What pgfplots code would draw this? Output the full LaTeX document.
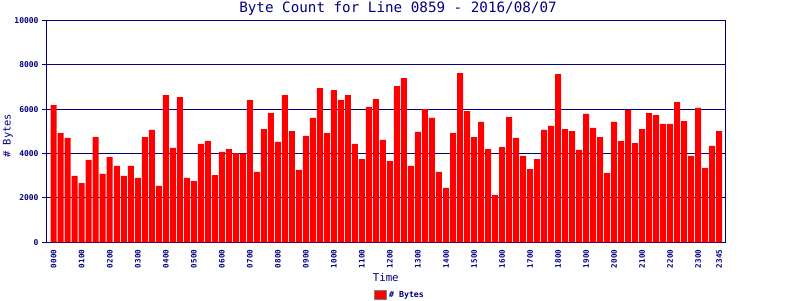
\documentclass[border=0pt]{standalone}
\usepackage{fontspec}
\setmainfont{DejaVu Sans Mono}
\usepackage{pgfplots}
\pgfplotsset{compat=1.18}
\definecolor{navy}{RGB}{0,0,128}
\begin{document}
\begin{tikzpicture}[x=1bp,y=1bp]
\path[use as bounding box] (0,0) rectangle (800,-300);
\node[text=navy, font=\fontsize{14.3}{15}\selectfont, anchor=center] at (398,-9) {Byte Count for Line 0859 - 2016/08/07};
\begin{axis}[
  at={(46bp,-20.3bp)}, anchor=north west,
  scale only axis, width=679.5bp, height=222bp,
  xmin=-1.1, xmax=95.9, ymin=0, ymax=10000,
  ybar, bar width=6bp, bar shift=0pt,
  axis line style={navy, line width=1bp},
  ytick={0,2000,4000,6000,8000,10000},
  ymajorgrids, grid style={navy, line width=1bp},
  ytick pos=left, tick align=outside, major tick length=4bp,
  ytick style={navy, line width=1bp},
  xtick={0,4,8,12,16,20,24,28,32,36,40,44,48,52,56,60,64,68,72,76,80,84,88,92,95},
  xticklabels={0000,0100,0200,0300,0400,0500,0600,0700,0800,0900,1000,1100,1200,1300,1400,1500,1600,1700,1800,1900,2000,2100,2200,2300,2345},
  xtick style={draw=none},
  x tick label style={rotate=90, anchor=east, text=navy, font=\fontsize{7.6}{8}\selectfont\bfseries},
  y tick label style={text=navy, font=\fontsize{8}{8}\selectfont\bfseries},
  scaled y ticks=false,
  /pgf/number format/1000 sep={},
  /pgf/number format/assume math mode=true,
  xlabel={Time},
  xlabel style={at={(axis description cs:0.5,-0.16)}, anchor=center, text=navy, font=\fontsize{10.8}{11}\selectfont},
  ylabel={\# Bytes},
  ylabel style={at={(axis description cs:-0.056,0.48)}, anchor=center, rotate=0, text=navy, font=\fontsize{10.5}{11}\selectfont},
  legend style={at={(axis description cs:0.521,-0.237)}, anchor=center, draw=none, fill=none, text=navy, font=\fontsize{8.3}{9}\selectfont\bfseries, inner sep=0pt},
  legend image code/.code={\draw[fill=red, draw=gray, line width=1bp] (0bp,-4.5bp) rectangle (12bp,4.5bp);},
]
\addplot[fill=red, draw=none] table[x=i, y=v] {
i v
0 6180
1 4920
2 4700
3 2990
4 2670
5 3710
6 4740
7 3080
8 3840
9 3440
10 2990
11 3440
12 2900
13 4740
14 5060
15 2540
16 6630
17 4250
18 6540
19 2900
20 2760
21 4430
22 4560
23 3030
24 4070
25 4200
26 4020
27 3990
28 6410
29 3170
30 5100
31 5820
32 4520
33 6630
34 5010
35 3260
36 4790
37 5600
38 6950
39 4920
40 6860
41 6410
42 6630
43 4430
44 3750
45 6090
46 6450
47 4610
48 3660
49 7040
50 7400
51 3440
52 4970
53 6000
54 5600
55 3170
56 2450
57 4920
58 7620
59 5910
60 4740
61 5420
62 4200
63 2130
64 4290
65 5640
66 4700
67 3890
68 3300
69 3750
70 5060
71 5240
72 7580
73 5100
74 5010
75 4160
76 5780
77 5150
78 4740
79 3120
80 5420
81 4560
82 5970
83 4470
84 5100
85 5820
86 5730
87 5330
88 5330
89 6320
90 5460
91 3890
92 6050
93 3350
94 4340
95 5010
};
\addlegendentry{\# Bytes}
\end{axis}
\end{tikzpicture}
\end{document}
